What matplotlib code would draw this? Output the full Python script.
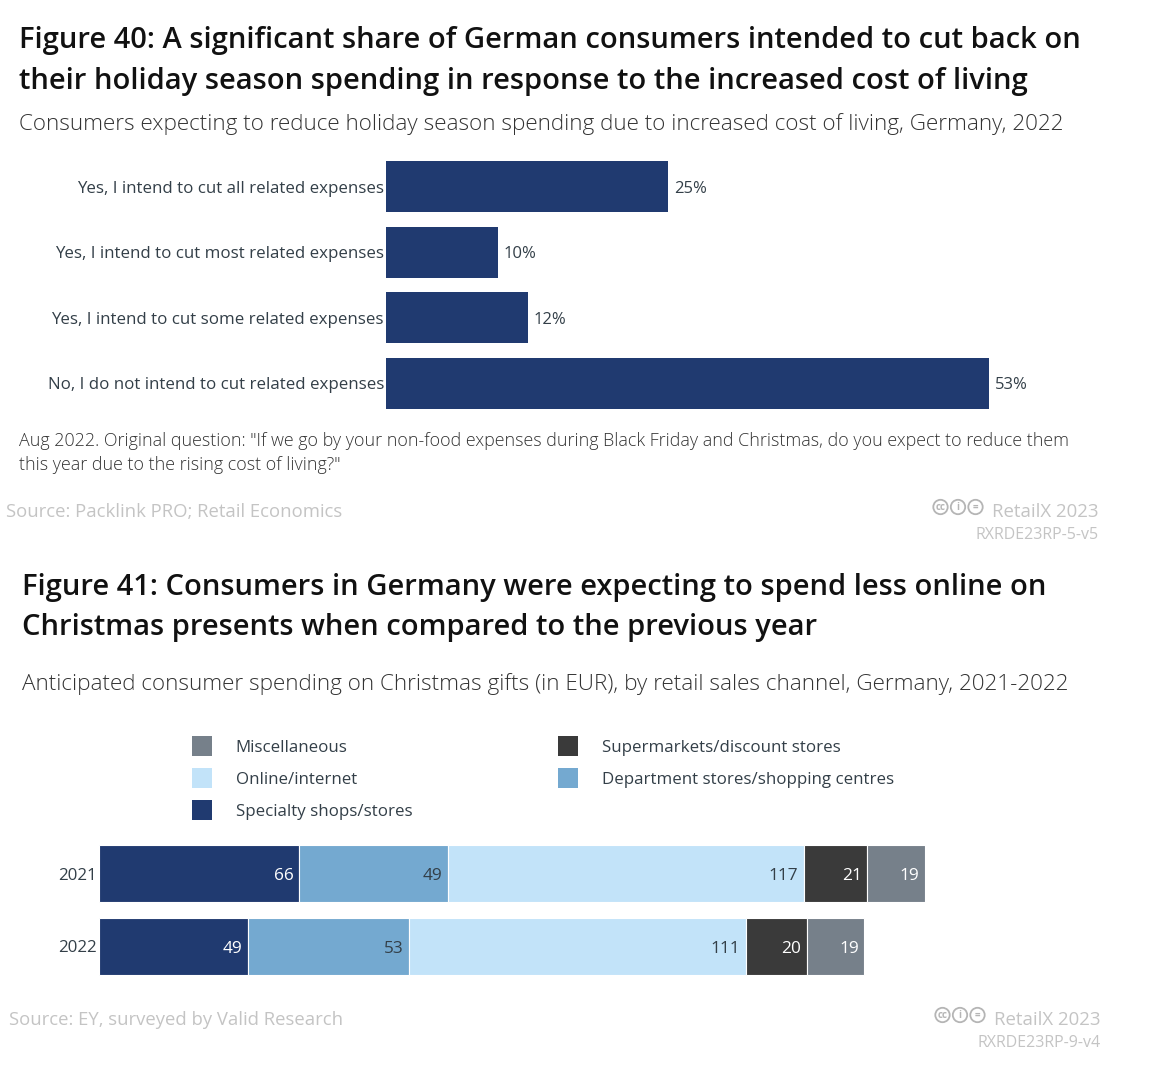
import matplotlib
matplotlib.use('Agg')
import matplotlib.pyplot as plt
from matplotlib.patches import Circle

W, H = 1173, 1080
plt.rcParams['font.family'] = ['Open Sans', 'DejaVu Sans']

cats40 = ['Yes, I intend to cut all related expenses', 'Yes, I intend to cut most related expenses',
          'Yes, I intend to cut some related expenses', 'No, I do not intend to cut related expenses']
vals40 = [24.8, 9.8, 12.45, 53]
years = ['2021', '2022']
specialty = [66, 49]
department = [49, 53]
online = [117, 111]
supermarkets = [21, 20]
misc = [19, 19]
series41 = [('Specialty shops/stores', specialty, '#203A70', 'white'),
            ('Department stores/shopping centres', department, '#74A9D0', '#333f48'),
            ('Online/internet', online, '#C2E3F9', '#333f48'),
            ('Supermarkets/discount stores', supermarkets, '#3A3A3A', 'white'),
            ('Miscellaneous', misc, '#76808A', 'white')]

fig = plt.figure(figsize=(W/100, H/100), dpi=100)
def T(x, y, s, **k):
    k.setdefault('va', 'center'); k.setdefault('ha', 'left')
    fig.text(x/W, 1-y/H, s, **k)

TF, SF, GREY = 20.95, 16.17, '#c4c4c4'
T(19, 40.5, 'Figure 40: A significant share of German consumers intended to cut back on', fontsize=TF, weight='semibold', color='#111111')
T(19, 81, 'their holiday season spending in response to the increased cost of living', fontsize=TF, weight='semibold', color='#111111')
T(19, 124.5, 'Consumers expecting to reduce holiday season spending due to increased cost of living, Germany, 2022', fontsize=SF, weight='light', color='#333333')
T(19, 441.5, 'Aug 2022. Original question: "If we go by your non-food expenses during Black Friday and Christmas, do you expect to reduce them', fontsize=12.9, weight='light', color='#333333')
T(19, 464.5, 'this year due to the rising cost of living?"', fontsize=12.9, weight='light', color='#333333')
T(6, 512, 'Source: Packlink PRO; Retail Economics', fontsize=13.35, color=GREY)
T(1099, 512, 'RetailX 2023', fontsize=13.4, color=GREY, ha='right')
T(1099, 535, 'RXRDE23RP-5-v5', fontsize=11.55, color=GREY, ha='right')

x0, x1 = 386, 989.5
ax = fig.add_axes([x0/W, 1-416/H, (x1-x0)/W, (416-154)/H])
ypos = list(range(len(cats40)))
ax.barh(ypos, vals40, height=0.78, color='#203A70')
ax.set_xlim(0, 53); ax.set_ylim(3.5, -0.5)
ax.set_yticks(ypos, cats40, fontsize=12.15, color='#333f48')
ax.tick_params(axis='y', length=0, pad=1.5)
ax.set_xticks([])
for s in ax.spines.values(): s.set_visible(False)
for y, v in zip(ypos, vals40):
    ax.annotate(f'{round(v)}%', (v, y), xytext=(4, -1.5), textcoords='offset points', va='center', fontsize=12, color='#333f48')

T(22, 587, 'Figure 41: Consumers in Germany were expecting to spend less online on', fontsize=TF, weight='semibold', color='#111111')
T(22, 627, 'Christmas presents when compared to the previous year', fontsize=TF, weight='semibold', color='#111111')
T(22, 684.5, 'Anticipated consumer spending on Christmas gifts (in EUR), by retail sales channel, Germany, 2021-2022', fontsize=SF, weight='light', color='#333333')
T(9, 1020, 'Source: EY, surveyed by Valid Research', fontsize=13.35, color=GREY)
T(1101, 1020, 'RetailX 2023', fontsize=13.4, color=GREY, ha='right')
T(1101, 1043, 'RXRDE23RP-9-v4', fontsize=11.55, color=GREY, ha='right')

ax2 = fig.add_axes([99/W, 1-983/H, 826/W, (983-837)/H])
left = [0, 0]
for name, vals, col, tc in series41:
    ax2.barh([0, 1], vals, left=left, height=0.78, color=col, edgecolor='white', linewidth=0.8)
    for i, v in enumerate(vals):
        ax2.annotate(str(v), (left[i]+v, i), xytext=(-4, -1.5), textcoords='offset points', ha='right', va='center', fontsize=12.4, color=tc)
    left = [a+b for a, b in zip(left, vals)]
ax2.set_xlim(0, 272); ax2.set_ylim(1.5, -0.5)
ax2.set_yticks([0, 1], years, fontsize=12.2, color='#333f48')
ax2.tick_params(axis='y', length=0, pad=1.5)
ax2.set_xticks([])
for s in ax2.spines.values(): s.set_visible(False)

la = fig.add_axes([0, 0, 1, 1]); la.set_xlim(0, W); la.set_ylim(H, 0); la.axis('off'); la.patch.set_alpha(0)
leg = [(192, 746, 4), (192, 778, 2), (192, 810, 0), (558, 746, 3), (558, 778, 1)]
for x, y, i in leg:
    name, _, col, _ = series41[i]
    la.add_patch(plt.Rectangle((x, y-10), 19.5, 20, color=col, lw=0))
    T(x+43.5, y+2, name, fontsize=12.15, color='#333f48')

for cx0, cy in [(933, 507), (935, 1015)]:
    for dx, g in ((7.5, 'cc'), (25, 'i'), (42.5, '=')):
        la.add_patch(Circle((cx0+dx, cy), 7.2, fill=False, ec='#b5b5b5', lw=1.3))
        la.text(cx0+dx, cy, g, ha='center', va='center', fontsize=7, weight='bold', color='#b5b5b5')

fig.savefig('out.png', dpi=100, facecolor='white')
